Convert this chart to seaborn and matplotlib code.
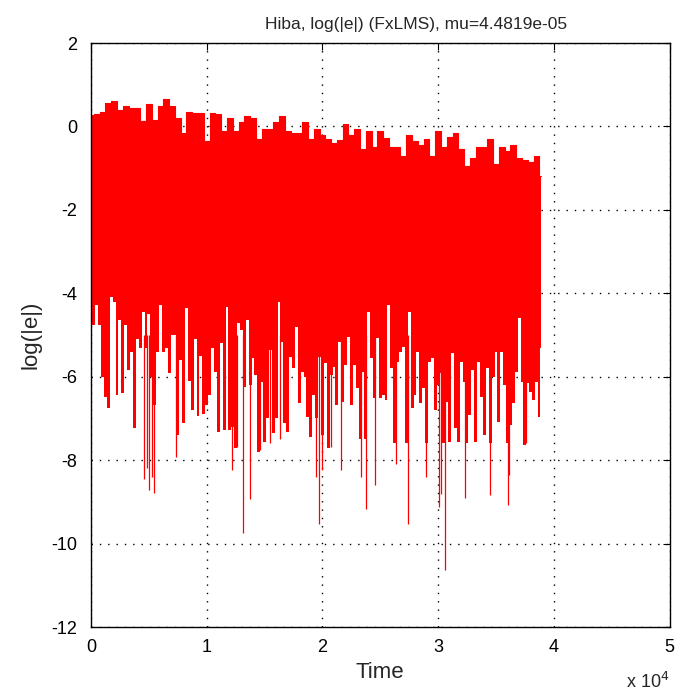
import numpy as np
import matplotlib
matplotlib.use("Agg")
import matplotlib.pyplot as plt
import seaborn as sns

# - Data (log|e| of FxLMS error signal)
# upper envelope, one value every 500 samples (+ last sample)
time_top = np.append(np.arange(0, 38501, 500), 38900)
upper = [0.27, 0.30, 0.35, 0.55, 0.62, 0.40, 0.50, 0.45, 0.45, 0.12,
         0.53, 0.15, 0.50, 0.65, 0.50, 0.20, -0.15, 0.35, 0.33, 0.33,
         -0.35, 0.33, 0.30, -0.10, 0.20, -0.10, 0.10, 0.25, 0.20, -0.30,
         -0.05, -0.05, 0.10, 0.25, -0.10, -0.15, -0.15, 0.10, -0.30, -0.07,
         -0.20, -0.30, -0.40, -0.33, 0.05, -0.20, -0.05, -0.55, -0.10, -0.50,
         -0.10, -0.27, -0.50, -0.50, -0.70, -0.20, -0.35, -0.45, -0.30, -0.70,
         -0.10, -0.50, -0.25, -0.15, -0.55, -0.95, -0.75, -0.50, -0.50, -0.30,
         -0.90, -0.50, -0.60, -0.45, -0.75, -0.80, -0.85, -0.70,
         -1.20]

# lower envelope, one value every 250 samples (+ last sample)
time_low = np.append(np.arange(0, 38751, 250), 38900)
lower = [-7.05, -4.76, -4.28, -4.76, -6.0, -6.48, -6.76, -4.08, -4.2, -6.44,
         -4.64, -6.4, -4.76, -5.84, -5.4, -7.24, -5.1, -5.3, -4.44, -5.3,
         -4.5, -6.0, -6.68, -5.4, -4.28, -5.4, -5.3, -5.9, -5.0, -5.0,
         -7.4, -5.6, -7.1, -4.36, -6.1, -6.8, -5.1, -6.95, -5.5, -6.9,
         -6.68, -6.44, -5.32, -5.88, -7.32, -5.2, -7.28, -4.32, -7.28, -7.2,
         -7.72, -4.72, -4.88, -6.24, -4.64, -6.2, -5.56, -5.96, -7.8, -6.12,
         -7.56, -7.0, -5.36, -7.36, -7.0, -4.2, -5.16, -7.12, -7.32, -5.52,
         -5.8, -4.8, -6.64, -5.88, -6.0, -6.96, -7.44, -6.44, -7.0, -5.52,
         -7.4, -5.68, -7.72, -5.96, -5.76, -6.68, -5.16, -6.6, -5.72, -5.04,
         -6.68, -5.72, -6.28, -7.5, -5.88, -7.5, -4.44, -5.56, -6.52, -5.08,
         -6.52, -6.44, -6.56, -4.28, -5.8, -7.6, -5.64, -5.4, -5.28, -7.6,
         -4.44, -6.76, -6.44, -5.4, -6.64, -6.28, -7.6, -5.64, -5.56, -6.8,
         -6.2, -5.92, -7.6, -6.6, -7.56, -5.44, -7.24, -7.56, -5.64, -6.12,
         -7.6, -6.92, -5.84, -7.56, -5.64, -6.48, -7.4, -5.8, -7.6, -6.0,
         -5.4, -7.08, -5.4, -6.2, -7.6, -7.16, -6.64, -5.88, -4.6, -6.12,
         -7.64, -6.16, -6.36, -6.56, -6.12, -6.96,
         -5.3]

# deep single spikes
spike_time = [4620, 4850, 5055, 5300, 5460, 7350, 12150, 12580, 13155, 13730,
              14600, 15460, 16300, 19450, 19680, 20000, 20720, 21640, 23360, 23790,
              24510, 26380, 27380, 28970, 30110, 30250, 30600, 32330, 34510, 36000,
              36100, 37590]
spike_low = [-8.46, -8.2, -8.72, -8.4, -8.78, -7.92, -8.24, -7.68, -9.74, -8.94,
             -7.76, -7.6, -7.5, -8.4, -9.52, -8.24, -7.68, -8.24, -8.4, -9.16,
             -8.6, -8.1, -9.54, -8.4, -9.12, -8.8, -10.64, -8.9, -8.84, -9.08,
             -8.35, -7.6]

x_ticks = [0, 10000, 20000, 30000, 40000, 50000]
x_tick_labels = ['0', '1', '2', '3', '4', '5']
y_ticks = [-12, -10, -8, -6, -4, -2, 0, 2]
y_tick_labels = ['-12', '-10', '-8', '-6', '-4', '-2', '0', '2']

# - Plot settings
sns.set_theme(style="white")
plt.rcParams['font.family'] = ['Liberation Sans', 'DejaVu Sans']

fig = plt.figure(figsize=(6.81, 6.98), dpi=100)
ax = fig.add_axes([91/681, 1 - 627/698, (669.5 - 91)/681, (627 - 43)/698])

red = '#ff0000'
ax.fill_between(time_top, upper, -4.0, step='mid', color=red, linewidth=0)
ax.fill_between(time_low, lower, -3.6, step='mid', color=red, linewidth=0)
sns.lineplot(x=time_top, y=upper, drawstyle='steps-mid', color=red,
             linewidth=0.8, estimator=None, ax=ax)
ax.vlines(spike_time, spike_low, -5.0, color=red, linewidth=0.9)

ax.set_xlim(0, 50000)
ax.set_ylim(-12, 2)
ax.set_xticks(x_ticks)
ax.set_xticklabels(x_tick_labels, fontsize=13)
ax.set_yticks(y_ticks)
ax.set_yticklabels(y_tick_labels, fontsize=13)
ax.tick_params(direction='in', top=True, right=True, length=5, width=0.8,
               colors='black')
ax.tick_params(axis='x', pad=9)
ax.tick_params(axis='y', pad=10)

ax.grid(True, color='black', linestyle=(0, (1, 5)), linewidth=1)
ax.set_axisbelow(True)
for s in ax.spines.values():
    s.set_color('black')
    s.set_linewidth(1)

ax.set_title('Hiba, log(|e|) (FxLMS), mu=4.4819e-05', fontsize=12.5,
             x=0.562, pad=10)
ax.set_xlabel('Time', fontsize=16)
ax.set_ylabel('log(|e|)', fontsize=16)
ax.xaxis.set_label_coords(0.5, -0.06)
ax.yaxis.set_label_coords(-0.085, 0.5)
ax.text(1.0, -0.105, 'x 10$^{4}$', transform=ax.transAxes, ha='right',
        va='baseline', fontsize=13)

fig.savefig('out.png', dpi=100, facecolor='white')
